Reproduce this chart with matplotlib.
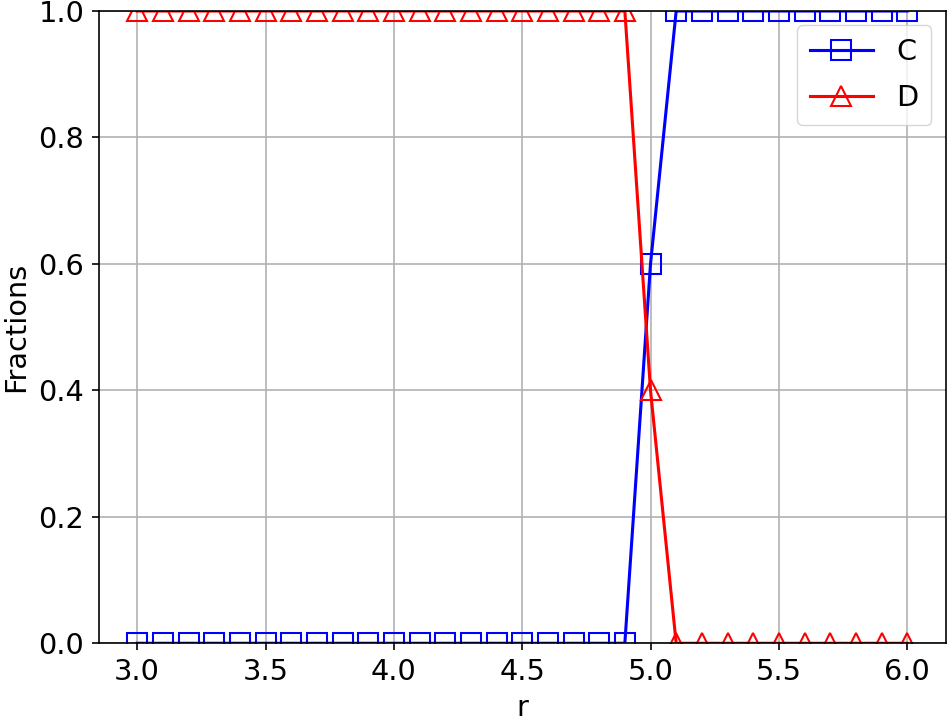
import matplotlib
matplotlib.use("Agg")
import matplotlib.pyplot as plt

r = [3.0, 3.1, 3.2, 3.3, 3.4, 3.5, 3.6, 3.7, 3.8, 3.9,
     4.0, 4.1, 4.2, 4.3, 4.4, 4.5, 4.6, 4.7, 4.8, 4.9,
     5.0, 5.1, 5.2, 5.3, 5.4, 5.5, 5.6, 5.7, 5.8, 5.9, 6.0]
frac_C = [0, 0, 0, 0, 0, 0, 0, 0, 0, 0,
          0, 0, 0, 0, 0, 0, 0, 0, 0, 0,
          0.6, 1, 1, 1, 1, 1, 1, 1, 1, 1, 1]
frac_D = [1, 1, 1, 1, 1, 1, 1, 1, 1, 1,
          1, 1, 1, 1, 1, 1, 1, 1, 1, 1,
          0.4, 0, 0, 0, 0, 0, 0, 0, 0, 0, 0]

S = 1.48
plt.rcParams.update({
    "font.size": 14 * S,
    "axes.linewidth": 0.8 * S,
    "xtick.major.width": 0.8 * S,
    "ytick.major.width": 0.8 * S,
    "xtick.major.size": 3.5 * S,
    "ytick.major.size": 3.5 * S,
    "xtick.major.pad": 3.5 * S,
    "ytick.major.pad": 3.5 * S,
})

fig = plt.figure(figsize=(9.47, 7.24), dpi=100)
ax = fig.add_axes([0.1042, 0.1115, 0.8944, 0.8733])

ax.plot(r, frac_C, color="blue", marker="s", markersize=10 * S * 0.95,
        markerfacecolor="none", markeredgewidth=1.0 * S, linewidth=1.5 * S, label="C")
ax.plot(r, frac_D, color="red", marker="^", markersize=10 * S,
        markerfacecolor="none", markeredgewidth=1.0 * S, linewidth=1.5 * S, label="D")

ax.set_ylim(0, 1.0)
ax.set_xlabel("r", labelpad=4 * S)
ax.set_ylabel("Fractions", labelpad=4 * S)
ax.grid(True, color="#b0b0b0", linewidth=0.8 * S)
ax.set_axisbelow(True)
ax.legend(loc="upper right", fontsize=14 * S, handlelength=2.2,
          labelspacing=0.6, borderpad=0.45)

fig.savefig("out.png", dpi=100)
